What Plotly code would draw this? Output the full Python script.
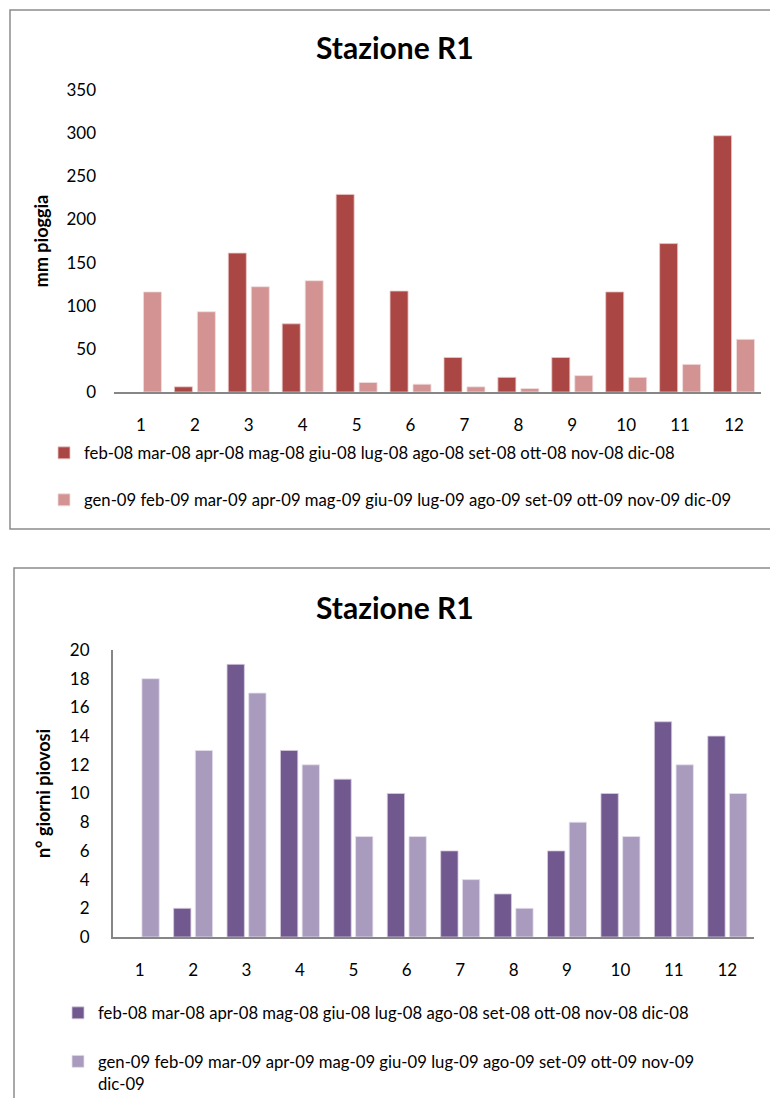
import plotly.graph_objects as go

# Month index on the x axis
months = list(range(1, 12 + 1))

# Series labels (month names shown in each legend entry)
labels_2008 = ["feb-08", "mar-08", "apr-08", "mag-08", "giu-08", "lug-08",
               "ago-08", "set-08", "ott-08", "nov-08", "dic-08"]
labels_2009 = ["gen-09", "feb-09", "mar-09", "apr-09", "mag-09", "giu-09",
               "lug-09", "ago-09", "set-09", "ott-09", "nov-09", "dic-09"]

# Rainfall (mm) per month, station R1
rain_2008 = [None, 6, 161, 79, 229, 117, 40, 17, 40, 116, 172, 297]
rain_2009 = [116, 93, 122, 129, 11, 9, 6, 4, 19, 17, 32, 61]

# Number of rainy days per month, station R1
days_2008 = [None, 2, 19, 13, 11, 10, 6, 3, 6, 10, 15, 14]
days_2009 = [18, 13, 17, 12, 7, 7, 4, 2, 8, 7, 12, 10]

rain_ticks = [0, 50, 100, 150, 200, 250, 300, 350]
days_ticks = [0, 2, 4, 6, 8, 10, 12, 14, 16, 18, 20]

W, H = 770, 1098
FONT = "Lato, 'Open Sans', sans-serif"
AXIS_GREY = "#868686"


def px(x):
    return x / W


def py(y):
    return 1 - y / H


fig = go.Figure()

name_2008 = " ".join(labels_2008)
name_2009 = " ".join(labels_2009)
name_2009_wrapped = " ".join(labels_2009[:-1]) + "<br>" + labels_2009[-1]

# Top chart: rainfall
fig.add_trace(go.Bar(x=months, y=rain_2008, name=name_2008, xaxis="x", yaxis="y",
                     marker=dict(color="#AA4643", line=dict(color="#E8C8C7", width=0.8)),
                     width=0.334, offset=-0.38, legend="legend"))
fig.add_trace(go.Bar(x=months, y=rain_2009, name=name_2009, xaxis="x", yaxis="y",
                     marker=dict(color="#D29392", line=dict(color="#F1DEDE", width=0.8)),
                     width=0.334, offset=0.046, legend="legend2"))

# Bottom chart: rainy days
fig.add_trace(go.Bar(x=months, y=days_2008, name=name_2008, xaxis="x2", yaxis="y2",
                     marker=dict(color="#71588F", line=dict(color="#D5CCE0", width=0.8)),
                     width=0.324, offset=-0.365, legend="legend3"))
fig.add_trace(go.Bar(x=months, y=days_2009, name=name_2009_wrapped, xaxis="x2", yaxis="y2",
                     marker=dict(color="#A99BBD", line=dict(color="#E6E0EE", width=0.8)),
                     width=0.324, offset=0.041, legend="legend4"))

tick_font = dict(family=FONT, size=17, color="#000000")
title_font = dict(family=FONT, size=18, color="#000000")
legend_font = dict(family=FONT, size=16.7, color="#000000")

common_x = dict(tickmode="array", tickvals=months, ticktext=[str(m) for m in months],
                range=[0.5, 12.5], showgrid=False, zeroline=False, showline=True,
                linecolor=AXIS_GREY, linewidth=2, ticks="", tickfont=tick_font,
                ticklabelstandoff=17, fixedrange=True)

fig.update_layout(
    width=W, height=H,
    margin=dict(l=0, r=0, t=0, b=0, autoexpand=False),
    paper_bgcolor="white", plot_bgcolor="white",
    barmode="group",
    showlegend=True,
    xaxis=dict(domain=[px(114), px(761)], anchor="y", **common_x),
    yaxis=dict(domain=[py(392), py(90)], anchor="x", range=[0, 350],
               tickmode="array", tickvals=rain_ticks, showgrid=False, zeroline=False,
               showline=False, ticks="", tickfont=tick_font, ticklabelstandoff=17,
               title=dict(text="<b>mm pioggia</b>", font=title_font, standoff=13)),
    xaxis2=dict(domain=[px(113), px(754)], anchor="y2", **common_x),
    yaxis2=dict(domain=[py(937), py(650)], anchor="x2", range=[0, 20],
                tickmode="array", tickvals=days_ticks, showgrid=False, zeroline=False,
                showline=True, linecolor=AXIS_GREY, linewidth=2, ticks="",
                tickfont=tick_font, ticklabelstandoff=18,
                title=dict(text="<b>n° giorni piovosi</b>", font=title_font, standoff=15)),
    legend=dict(x=px(44), y=py(453), xanchor="left", yanchor="middle",
                font=legend_font, bgcolor="rgba(0,0,0,0)"),
    legend2=dict(x=px(44), y=py(500), xanchor="left", yanchor="middle",
                 font=legend_font, bgcolor="rgba(0,0,0,0)"),
    legend3=dict(x=px(58), y=py(1013), xanchor="left", yanchor="middle",
                 font=legend_font, bgcolor="rgba(0,0,0,0)"),
    legend4=dict(x=px(58), y=py(1044), xanchor="left", yanchor="top",
                 font=legend_font, bgcolor="rgba(0,0,0,0)", valign="top"),
)

# Chart titles
for ty in (47, 607):
    fig.add_annotation(text="<b>Stazione R1</b>", xref="paper", yref="paper",
                       x=px(395), y=py(ty), xanchor="center", yanchor="middle",
                       showarrow=False, font=dict(family=FONT, size=30, color="#000000"))

# Chart frames
fig.add_shape(type="rect", xref="paper", yref="paper",
              x0=px(10), x1=px(780), y0=py(529), y1=py(10),
              line=dict(color="#8C8C8C", width=1.5), fillcolor="rgba(0,0,0,0)", layer="below")
fig.add_shape(type="rect", xref="paper", yref="paper",
              x0=px(14), x1=px(780), y0=py(1110), y1=py(568),
              line=dict(color="#8C8C8C", width=1.5), fillcolor="rgba(0,0,0,0)", layer="below")

fig.write_html("out.html")
